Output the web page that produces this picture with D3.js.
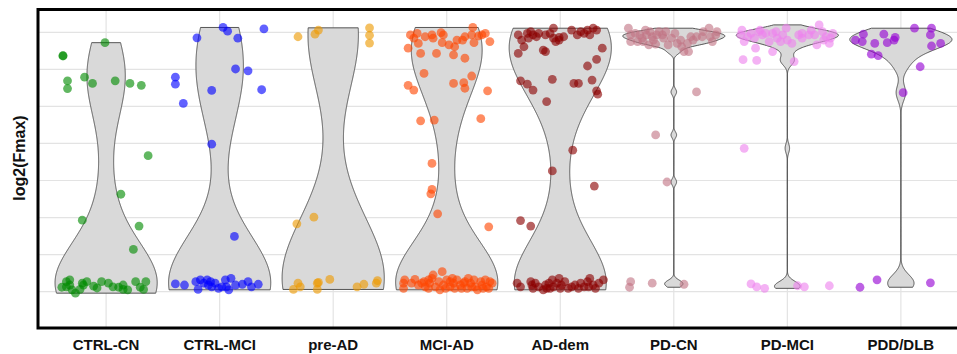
<!DOCTYPE html>
<html>
<head>
<meta charset="utf-8">
<script src="https://cdn.jsdelivr.net/npm/d3@7"></script>
<style>
  body { margin: 0; background: #fff; }
  text { font-family: Arial, "Liberation Sans", sans-serif; }
</style>
</head>
<body>
<div id="chart"></div>
<script>
// groups along x, and the colour of each group's points
const groups = ["CTRL-CN", "CTRL-MCI", "pre-AD", "MCI-AD", "AD-dem", "PD-CN", "PD-MCI", "PDD/DLB"];
const groupColors = ["#008b00", "#0000ff", "#ee9a00", "#ff4500", "#8b0000", "#c27585", "#ee82ee", "#9400d3"];
const yGridValues = [0, 1, 2, 3, 4, 5, 6, 7];

// each point: [horizontal jitter (fraction of category step), log2(Fmax) value]
const ctrlCN = [
  [-0.01, 6.72], [-0.38, 6.36], [-0.38, 6.37], [-0.34, 5.69], [-0.34, 5.48], [-0.19, 5.79], [-0.12, 5.62],
  [0.08, 5.69], [0.21, 5.62], [0.31, 5.57], [0.37, 3.67], [0.13, 2.63], [-0.21, 1.93], [0.29, 1.77], [0.24, 1.14],
  [-0.39, 0.12], [-0.35, 0.27], [-0.32, 0.18], [-0.30, 0.05], [-0.27, -0.04], [-0.23, 0.06], [-0.20, 0.18],
  [-0.17, 0.27], [-0.11, 0.15], [-0.04, 0.27], [0.02, 0.23], [0.06, 0.13], [0.11, 0.12], [0.15, 0.18],
  [0.15, 0.06], [0.26, 0.27], [0.30, 0.12], [0.33, 0.06], [0.35, 0.27], [-0.32, 0.32], [-0.35, 0.13],
  [-0.21, 0.23], [-0.08, 0.10], [0.19, 0.05]
];
const ctrlMCI = [
  [0.03, 7.13], [0.07, 7.03], [0.39, 7.09], [-0.20, 6.85], [0.16, 6.84], [0.14, 6.01], [0.25, 5.96],
  [-0.39, 5.79], [-0.39, 5.60], [-0.07, 5.43], [0.37, 5.45], [-0.32, 5.08], [-0.07, 3.98], [0.13, 1.49],
  [-0.39, 0.21], [-0.31, 0.18], [-0.21, 0.27], [-0.19, 0.06], [-0.14, 0.23], [-0.11, 0.32], [-0.10, 0.18],
  [-0.07, 0.13], [-0.04, 0.23], [-0.01, 0.09], [0.05, 0.32], [0.06, 0.13], [0.10, 0.36], [0.14, 0.18],
  [0.20, 0.20], [0.25, 0.27], [0.28, 0.13], [0.34, 0.20], [-0.17, 0.32], [0.02, 0.13], [0.08, 0.05], [-0.08, 0.27]
];
const preAD = [
  [-0.31, 6.88], [-0.16, 6.95], [-0.13, 7.06], [0.32, 7.12], [0.32, 6.92], [0.32, 6.71],
  [-0.32, 1.83], [-0.17, 2.01],
  [-0.35, 0.06], [-0.31, 0.23], [-0.29, 0.13], [-0.14, 0.06], [-0.13, 0.25], [-0.03, 0.33],
  [0.21, 0.13], [0.27, 0.20], [0.38, 0.23], [0.39, 0.30], [-0.14, 0.23]
];
const mciAD = [
  [-0.32, 6.93], [-0.26, 6.97], [-0.29, 6.84], [-0.19, 6.88], [-0.13, 6.93], [-0.12, 6.84], [-0.05, 6.99],
  [-0.03, 6.93], [-0.04, 6.72], [0.02, 6.66], [0.09, 6.79], [0.14, 6.79], [0.16, 6.88], [0.23, 7.13],
  [0.24, 6.72], [0.31, 6.93], [0.34, 6.97], [0.38, 6.75], [-0.34, 6.57], [-0.25, 6.70], [-0.23, 6.43],
  [-0.09, 6.43], [0.06, 6.39], [0.16, 6.30], [0.07, 6.61], [0.22, 6.93], [0.28, 6.90],
  [-0.20, 5.89], [0.06, 5.62], [0.15, 5.64], [0.16, 5.49], [0.22, 5.82], [0.36, 5.42], [-0.34, 5.57],
  [-0.29, 5.44], [-0.23, 4.61], [-0.11, 4.63], [0.30, 4.67], [-0.13, 3.46], [-0.13, 2.76], [-0.14, 2.64],
  [-0.08, 2.10], [0.37, 1.75],
  [-0.38, 0.23], [-0.38, 0.09], [-0.28, 0.33], [-0.25, 0.18], [-0.20, 0.27], [-0.19, 0.13], [-0.15, 0.23],
  [-0.12, 0.45], [-0.10, 0.13], [-0.07, 0.27], [-0.04, 0.54], [-0.03, 0.18], [0.00, 0.32], [0.03, 0.13],
  [0.06, 0.23], [0.09, 0.32], [0.12, 0.18], [0.16, 0.27], [0.18, 0.09], [0.21, 0.23], [0.24, 0.32],
  [0.25, 0.13], [0.30, 0.27], [0.31, 0.18], [0.34, 0.32], [0.35, 0.13], [0.38, 0.27], [0.40, 0.23],
  [-0.16, 0.09], [-0.06, 0.05], [0.03, 0.27], [0.13, 0.09], [0.27, 0.05], [0.37, 0.09], [-0.31, 0.23],
  [-0.22, 0.23], [-0.13, 0.36], [-0.01, 0.09], [0.07, 0.09], [0.19, 0.36], [0.22, 0.13], [0.32, 0.09],
  [-0.37, 0.32], [-0.16, 0.32], [0.05, 0.36], [0.15, 0.23]
];
const adDem = [
  [-0.37, 6.93], [-0.34, 6.79], [-0.29, 6.97], [-0.28, 6.84], [-0.26, 7.02], [-0.24, 6.93], [-0.21, 6.88],
  [-0.13, 6.93], [-0.09, 6.97], [-0.06, 7.11], [-0.06, 6.84], [-0.04, 6.75], [-0.01, 6.79], [0.03, 6.88],
  [0.15, 6.93], [0.18, 7.02], [0.21, 6.97], [0.24, 7.06], [0.26, 6.93], [0.29, 7.11], [0.32, 7.06],
  [-0.37, 6.43], [-0.32, 6.61], [-0.15, 6.52], [-0.13, 6.48], [0.37, 6.57], [0.32, 6.27], [0.24, 6.09],
  [0.28, 5.71], [-0.35, 5.69], [-0.29, 5.60], [-0.24, 5.44], [-0.07, 5.73], [0.12, 5.62], [0.16, 5.62],
  [0.32, 5.42], [0.33, 5.33], [-0.12, 5.13], [0.11, 3.82], [-0.07, 3.26], [0.30, 2.85], [-0.35, 1.92],
  [-0.26, 1.77], [-0.01, 6.86], [-0.19, 6.97], [0.10, 7.06],
  [-0.38, 0.23], [-0.35, 0.13], [-0.26, 0.27], [-0.25, 0.18], [-0.24, 0.09], [-0.15, 0.05], [-0.13, 0.18],
  [-0.10, 0.23], [-0.07, 0.32], [-0.06, 0.13], [-0.03, 0.23], [0.00, 0.09], [0.01, 0.18], [0.04, 0.27],
  [0.10, 0.13], [0.13, 0.18], [0.18, 0.23], [0.21, 0.13], [0.24, 0.27], [0.26, 0.36], [0.29, 0.18],
  [0.31, 0.09], [0.34, 0.23], [0.38, 0.32], [-0.09, 0.09], [-0.01, 0.36], [0.07, 0.09], [0.16, 0.09],
  [0.25, 0.13], [-0.19, 0.13], [-0.12, 0.09], [-0.22, 0.23]
];
const pdCN = [
  [-0.40, 7.11], [-0.38, 6.93], [-0.38, 6.75], [-0.34, 6.97], [-0.28, 6.84], [-0.25, 7.06], [-0.24, 6.93],
  [-0.22, 6.66], [-0.21, 7.02], [-0.19, 6.88], [-0.18, 6.79], [-0.15, 6.93], [-0.10, 6.93], [-0.09, 6.84],
  [-0.05, 6.66], [0.01, 6.97], [0.06, 6.79], [0.07, 6.61], [0.09, 6.48], [0.13, 6.48], [0.15, 6.88],
  [0.20, 6.88], [0.25, 6.88], [0.31, 7.11], [0.32, 6.88], [0.38, 7.02], [0.37, 6.93], [-0.30, 6.93],
  [-0.27, 6.75], [-0.13, 7.02], [-0.02, 6.84], [0.12, 6.70], [0.26, 7.02], [-0.32, 6.75], [-0.07, 7.02],
  [0.03, 6.70], [0.17, 6.79], [0.34, 6.75], [-0.16, 6.68],
  [0.20, 5.39], [-0.16, 4.23], [-0.06, 2.96],
  [-0.38, 0.27], [-0.39, 0.12], [-0.19, 0.23], [0.09, 0.20]
];
const pdMCI = [
  [-0.40, 7.06], [-0.38, 6.75], [-0.35, 6.88], [-0.32, 6.97], [-0.28, 6.57], [-0.25, 7.02], [-0.24, 7.06],
  [-0.22, 6.93], [-0.16, 6.75], [-0.13, 6.97], [-0.13, 6.48], [-0.10, 7.02], [-0.09, 6.84], [-0.06, 6.75],
  [-0.04, 6.93], [-0.01, 7.11], [0.04, 6.70], [0.06, 6.21], [0.13, 6.97], [0.13, 6.84], [0.19, 6.93],
  [0.21, 7.06], [0.26, 6.66], [0.28, 7.20], [0.31, 7.02], [0.34, 6.88], [0.37, 6.70], [0.38, 6.84],
  [0.40, 6.97], [-0.39, 6.26], [-0.27, 6.24], [-0.19, 6.97], [0.00, 6.79], [0.10, 6.93], [0.32, 6.79],
  [0.24, 6.93], [-0.29, 6.84], [-0.41, 6.93],
  [-0.38, 3.87],
  [-0.32, 0.21], [-0.27, 0.13], [-0.20, 0.09], [0.09, 0.16], [0.15, 0.13], [0.37, 0.16]
];
const pddDLB = [
  [-0.40, 6.79], [-0.34, 6.75], [-0.33, 6.95], [-0.23, 6.70], [-0.15, 6.95], [-0.12, 6.72], [-0.06, 6.79],
  [-0.05, 6.86], [0.12, 7.11], [0.27, 7.11], [0.26, 6.93], [0.27, 6.63], [0.35, 6.70], [-0.26, 6.41],
  [-0.20, 6.37], [0.17, 6.07], [0.02, 5.37],
  [-0.36, 0.12], [-0.21, 0.32], [0.26, 0.24]
];
const groupPoints = [ctrlCN, ctrlMCI, preAD, mciAD, adDem, pdCN, pdMCI, pddDLB];

const width = 957, height = 354;
const panelLeft = 38, panelRight = 969, panelTop = 9.5, panelBottom = 328;

const svg = d3.select("#chart").append("svg")
  .attr("width", width)
  .attr("height", height);

svg.append("rect").attr("width", width).attr("height", height).attr("fill", "#fff");

// discrete axis with ggplot's 0.6 expansion on each side
const x = d3.scalePoint().domain(groups).range([panelLeft, panelRight]).padding(0.6);
const y = d3.scaleLinear().domain([-0.98, 7.615]).range([panelBottom, panelTop]);
const step = x.step();

const grid = svg.append("g").attr("class", "grid");
grid.selectAll("line.h")
  .data(yGridValues)
  .enter().append("line")
  .attr("class", "h")
  .attr("x1", panelLeft).attr("x2", panelRight)
  .attr("y1", d => y(d)).attr("y2", d => y(d))
  .attr("stroke", "#e3e3e3").attr("stroke-width", 1.2);
grid.selectAll("line.v")
  .data(groups)
  .enter().append("line")
  .attr("class", "v")
  .attr("x1", d => x(d)).attr("x2", d => x(d))
  .attr("y1", panelTop).attr("y2", panelBottom)
  .attr("stroke", "#e3e3e3").attr("stroke-width", 1.2);

// gaussian kde like R density() with bw.nrd0, trimmed to data range
function violinData(values) {
  const v = values.slice().sort(d3.ascending);
  const n = v.length;
  const sd = d3.deviation(v);
  const iqr = d3.quantile(v, 0.75) - d3.quantile(v, 0.25);
  let lo = Math.min(sd, iqr / 1.34);
  if (!lo) lo = sd || 1;
  const bw = 0.9 * lo * Math.pow(n, -0.2);
  const lo_ = v[0], hi_ = v[n - 1];
  const out = [];
  for (let i = 0; i < 512; i++) {
    const t = lo_ + (hi_ - lo_) * i / 511;
    let s = 0;
    v.forEach(xi => { const z = (t - xi) / bw; s += Math.exp(-0.5 * z * z); });
    out.push({ value: t, density: s / (n * bw * Math.sqrt(2 * Math.PI)) });
  }
  return out;
}

const violins = svg.append("g").attr("class", "violins");
groups.forEach((g, i) => {
  const dens = violinData(groupPoints[i].map(p => p[1]));
  const w = d3.scaleLinear()
    .domain([0, d3.max(dens, d => d.density)])
    .range([0, step * 0.45]);
  const area = d3.area()
    .x0(d => x(g) - w(d.density))
    .x1(d => x(g) + w(d.density))
    .y(d => y(d.value));
  violins.append("path")
    .datum(dens)
    .attr("d", area)
    .attr("fill", "#d9d9d9")
    .attr("stroke", "#444")
    .attr("stroke-width", 0.9);
});

const points = svg.append("g").attr("class", "points");
groups.forEach((g, i) => {
  points.selectAll(null)
    .data(groupPoints[i])
    .enter().append("circle")
    .attr("cx", d => x(g) + d[0] * step)
    .attr("cy", d => y(d[1]))
    .attr("r", 4.4)
    .attr("fill", groupColors[i])
    .attr("fill-opacity", 0.62);
});

// panel border
svg.append("rect")
  .attr("x", panelLeft).attr("y", panelTop)
  .attr("width", panelRight - panelLeft).attr("height", panelBottom - panelTop)
  .attr("fill", "none").attr("stroke", "#000").attr("stroke-width", 3);

svg.append("g").selectAll("text")
  .data(groups)
  .enter().append("text")
  .attr("x", d => x(d))
  .attr("y", 350)
  .attr("text-anchor", "middle")
  .attr("font-size", 15)
  .attr("font-weight", "bold")
  .attr("fill", "#111")
  .text(d => d);

svg.append("text")
  .attr("transform", "translate(25,158) rotate(-90)")
  .attr("text-anchor", "middle")
  .attr("font-size", 16)
  .attr("font-weight", "bold")
  .attr("fill", "#111")
  .text("log2(Fmax)");
</script>
</body>
</html>
